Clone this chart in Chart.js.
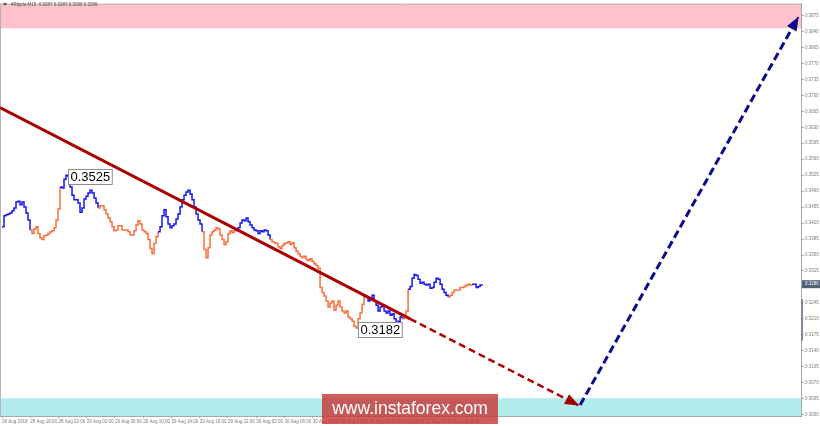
<!DOCTYPE html>
<html>
<head>
<meta charset="utf-8">
<script src="https://cdn.jsdelivr.net/npm/chart.js@4.4.1/dist/chart.umd.min.js"></script>
<style>
  html, body { margin: 0; padding: 0; background: #fff; }
  #grafico { display: block; }
</style>
</head>
<body>
<canvas id="grafico" width="820" height="426"></canvas>
<script>
// minutes between two samples (about 2px of the original)
const SAMPLE_MIN = 17;

// #Ripple M15 close line, one value per sample
const prices = [
  // blue
  0.3412,0.3436,0.3438,0.3440,0.3442,0.3447,0.3453,0.3466,0.3468,0.3460,0.3466,0.3455,0.3442,0.3427,0.3405,
  // orange
  0.3397,0.3407,0.3412,0.3397,0.3388,0.3384,0.3392,0.3394,0.3397,0.3401,0.3403,0.3410,0.3427,0.3451,0.3499,
  // blue
  0.3497,0.3516,0.3525,0.3522,0.3499,0.3481,0.3471,0.3471,0.3464,0.3444,0.3453,0.3473,0.3479,0.3486,0.3492,0.3486,0.3475,0.3464,0.3453,
  // orange
  0.3458,0.3458,0.3449,0.3440,0.3431,0.3423,0.3412,0.3403,0.3405,0.3414,0.3414,0.3405,0.3405,0.3405,0.3401,
  0.3394,0.3394,0.3403,0.3416,0.3425,0.3418,0.3405,0.3401,0.3397,0.3384,0.3364,0.3353,0.3375,0.3390,0.3401,
  // blue
  0.3412,0.3436,0.3449,0.3434,0.3418,0.3410,0.3414,0.3418,0.3429,0.3440,0.3455,0.3471,0.3481,0.3488,0.3492,
  0.3484,0.3471,0.3455,0.3440,0.3427,0.3418,0.3401,
  // orange
  0.3362,0.3344,0.3366,0.3394,0.3401,0.3405,0.3410,0.3407,0.3394,0.3384,0.3373,0.3379,0.3397,0.3403,0.3399,0.3403,0.3405,
  // blue
  0.3410,0.3420,0.3427,0.3425,0.3431,0.3423,0.3416,0.3410,0.3405,0.3403,0.3397,0.3403,0.3401,0.3405,0.3403,0.3394,0.3384,
  // orange
  0.3379,0.3377,0.3375,0.3368,0.3364,0.3371,0.3375,0.3377,0.3379,0.3373,
  0.3377,0.3366,0.3358,0.3353,0.3347,0.3344,0.3347,0.3340,0.3338,0.3342,
  0.3336,0.3331,0.3327,0.3321,0.3279,0.3268,0.3260,0.3249,0.3236,0.3245,
  0.3249,0.3229,0.3240,0.3249,0.3236,0.3227,0.3223,0.3227,0.3214,0.3210,
  0.3205,0.3194,0.3190,0.3210,0.3223,0.3242,0.3260,
  // blue
  0.3258,0.3249,0.3255,0.3262,0.3249,0.3240,0.3227,0.3236,0.3240,0.3227,0.3223,0.3227,0.3218,0.3221,0.3210,
  0.3201,0.3205,0.3214,0.3210,
  // orange
  0.3218,0.3227,0.3275,
  // blue
  0.3281,0.3299,0.3307,0.3305,0.3297,0.3288,0.3290,0.3286,0.3284,0.3286,0.3277,0.3279,0.3290,0.3299,0.3297,
  0.3286,0.3275,0.3268,0.3262,0.3258,
  // orange
  0.3262,0.3268,0.3273,0.3273,0.3273,0.3279,0.3279,0.3281,0.3284,0.3286,0.3284,0.3286,
  // blue
  0.3286,0.3279,0.3281,0.3284,0.3286
];

// first sample of each wave leg, colours alternate blue / orange
const legStarts = [0, 15, 30, 49, 79, 101, 118, 135, 182, 201, 204, 224, 236];

// marked extremes
const extremeIdx = [32, 177];
const extremeText = ['0.3525', '0.3182'];

// trend line and forecast arrows (time in minutes from 28 Aug 14:00, price)
const redTimes = [-17, 3468, 4896];
const redPrices = [0.3673, 0.3210, 0.3021];
const blueTimes = [4913, 6766];
const bluePrices = [0.3021, 0.3871];

// target zones
const pinkZone = [0.3847, 0.3901];
const cyanZone = [0.2997, 0.3036];
const axisBar = [0.3162, 0.3253];

const lastPrice = 0.3286;
const headerText = '#Ripple,M15  0.3287 0.3287 0.3286 0.3286';

const priceTicks = [0.3875,0.3840,0.3805,0.3770,0.3735,0.3700,0.3665,0.3630,0.3595,0.3560,0.3525,0.3490,0.3455,
  0.3420,0.3385,0.3350,0.3315,0.3280,0.3245,0.3210,0.3175,0.3140,0.3105,0.3070,0.3035,0.3000];
const timeLabels = ['28 Aug 2018','28 Aug 18:00','28 Aug 22:00','29 Aug 02:00','29 Aug 06:00','29 Aug 10:00',
  '29 Aug 14:00','29 Aug 18:00','29 Aug 22:00','30 Aug 02:00','30 Aug 06:00','30 Aug 10:00','30 Aug 14:00',
  '30 Aug 18:00','30 Aug 22:00','31 Aug 02:00','31 Aug 06:00'];
const timeTicks = timeLabels.map((_, i) => i * 240);

const AZUL = '#1515f2';
const LARANJA = '#f5703c';
const legColors = legStarts.map((_, i) => i % 2 ? LARANJA : AZUL);
const FONTE = "'Liberation Sans', Arial, sans-serif";

function legOf(i) {
  let k = 0;
  legStarts.forEach((s, j) => { if (i >= s) k = j; });
  return k;
}

const serie = prices.map((p, i) => ({ x: i * SAMPLE_MIN, y: p }));
const linhaVermelha = redTimes.map((t, i) => ({ x: t, y: redPrices[i] }));
const setaAzul = blueTimes.map((t, i) => ({ x: t, y: bluePrices[i] }));

const zonasPlugin = {
  id: 'zonas',
  beforeDatasetsDraw(chart) {
    const { ctx, chartArea: a, scales: { y } } = chart;
    ctx.save();
    ctx.fillStyle = '#ffc2cc';
    let y1 = y.getPixelForValue(pinkZone[1]), y0 = y.getPixelForValue(pinkZone[0]);
    ctx.fillRect(a.left, y1, a.right - a.left, y0 - y1);
    ctx.fillStyle = '#b2ecec';
    y1 = y.getPixelForValue(cyanZone[1]); y0 = y.getPixelForValue(cyanZone[0]);
    ctx.fillRect(a.left, y1, a.right - a.left, y0 - y1);
    // moldura
    ctx.strokeStyle = '#b4b4b4';
    ctx.lineWidth = 1;
    ctx.beginPath();
    ctx.moveTo(a.left + 0.5, a.bottom); ctx.lineTo(a.left + 0.5, a.top + 0.5); ctx.lineTo(a.right, a.top + 0.5);
    ctx.stroke();
    ctx.restore();
  }
};

const setasPlugin = {
  id: 'setas',
  afterDatasetsDraw(chart) {
    const ctx = chart.ctx;
    [[2, '#a00000'], [3, '#0c0c8a']].forEach(([di, cor]) => {
      const pts = chart.getDatasetMeta(di).data;
      const a = pts[pts.length - 2], b = pts[pts.length - 1];
      const ang = Math.atan2(b.y - a.y, b.x - a.x);
      ctx.save();
      ctx.fillStyle = cor;
      ctx.translate(b.x, b.y);
      ctx.rotate(ang);
      ctx.beginPath();
      ctx.moveTo(1, 0); ctx.lineTo(-13, -5.5); ctx.lineTo(-13, 5.5);
      ctx.closePath();
      ctx.fill();
      ctx.restore();
    });
    // caixas dos extremos
    const meta = chart.getDatasetMeta(0);
    ctx.save();
    ctx.font = '13px ' + FONTE;
    ctx.textBaseline = 'middle';
    extremeIdx.forEach((idx, k) => {
      const p = meta.data[idx];
      const w = ctx.measureText(extremeText[k]).width + 4;
      const bx = Math.round(p.x + 2) + 0.5, by = Math.round(p.y - 6) + 0.5;
      ctx.fillStyle = '#ffffff';
      ctx.fillRect(bx, by, w, 15);
      ctx.strokeStyle = '#8c8c8c';
      ctx.lineWidth = 1;
      ctx.strokeRect(bx, by, w, 15);
      ctx.fillStyle = '#000';
      ctx.fillText(extremeText[k], bx + 2, by + 8);
    });
    ctx.restore();
  }
};

const extrasPlugin = {
  id: 'extras',
  afterDraw(chart) {
    const { ctx, chartArea: a, scales: { y } } = chart;
    ctx.save();
    // barra no eixo
    ctx.fillStyle = '#7f8998';
    const b1 = y.getPixelForValue(axisBar[1]), b0 = y.getPixelForValue(axisBar[0]);
    ctx.fillRect(a.right, b1, 2, b0 - b1);
    // preco atual
    const py = y.getPixelForValue(lastPrice);
    ctx.fillStyle = '#52627a';
    ctx.fillRect(a.right + 1, py - 4, 19, 8);
    ctx.fillStyle = '#ffffff';
    ctx.font = '4.5px ' + FONTE;
    ctx.textBaseline = 'middle';
    ctx.fillText(lastPrice.toFixed(4), a.right + 4, py);
    // cabecalho
    ctx.fillStyle = '#555';
    ctx.beginPath();
    ctx.moveTo(3, 3); ctx.lineTo(7, 3); ctx.lineTo(5, 6); ctx.closePath(); ctx.fill();
    ctx.fillText(headerText, 11, 4.5);
    // marca d'agua
    ctx.fillStyle = 'rgba(200, 52, 52, 0.8)';
    ctx.fillRect(322, 394, 176, 30);
    ctx.fillStyle = '#ffffff';
    ctx.font = '17.5px ' + FONTE;
    ctx.textAlign = 'center';
    ctx.fillText('www.instaforex.com', 410, 409);
    ctx.restore();
  }
};

new Chart(document.getElementById('grafico').getContext('2d'), {
  type: 'line',
  data: {
    datasets: [
      {
        data: serie,
        borderColor: AZUL,
        borderWidth: 1.5,
        pointRadius: 0,
        stepped: true,
        order: 5,
        segment: { borderColor: c => legColors[legOf(c.p1DataIndex)] }
      },
      {
        data: linhaVermelha.slice(0, 2),
        borderColor: '#a80000',
        borderWidth: 3,
        pointRadius: 0,
        order: 1
      },
      {
        data: linhaVermelha.slice(1),
        borderColor: '#b00000',
        borderWidth: 2.5,
        borderDash: [7, 4],
        pointRadius: 0,
        order: 1
      },
      {
        data: setaAzul,
        borderColor: '#0c0c8a',
        borderWidth: 3,
        borderDash: [8, 4],
        pointRadius: 0,
        order: 1
      }
    ]
  },
  options: {
    responsive: false,
    animation: false,
    layout: { padding: 0 },
    plugins: { legend: { display: false }, tooltip: { enabled: false } },
    scales: {
      x: {
        type: 'linear',
        min: -17,
        max: 6790,
        afterBuildTicks: s => { s.ticks = timeTicks.map(v => ({ value: v })); },
        afterFit: s => { s.height = 10; },
        grid: { drawOnChartArea: false, tickLength: 2, color: '#a8a8a8' },
        border: { color: '#a8a8a8' },
        ticks: {
          align: 'start',
          maxRotation: 0,
          autoSkip: false,
          padding: 1,
          color: '#7a7a7a',
          font: { size: 4.5, family: FONTE },
          callback: (v, i) => timeLabels[i]
        }
      },
      y: {
        position: 'right',
        min: 0.2997,
        max: 0.3901,
        afterBuildTicks: s => { s.ticks = priceTicks.map(v => ({ value: v })); },
        afterFit: s => { s.width = 19; },
        grid: { drawOnChartArea: false, tickLength: 3, color: '#a8a8a8' },
        border: { color: '#a8a8a8' },
        ticks: {
          padding: 1,
          color: '#7a7a7a',
          font: { size: 4.5, family: FONTE },
          callback: v => v.toFixed(4)
        }
      }
    }
  },
  plugins: [zonasPlugin, setasPlugin, extrasPlugin]
});
</script>
</body>
</html>
